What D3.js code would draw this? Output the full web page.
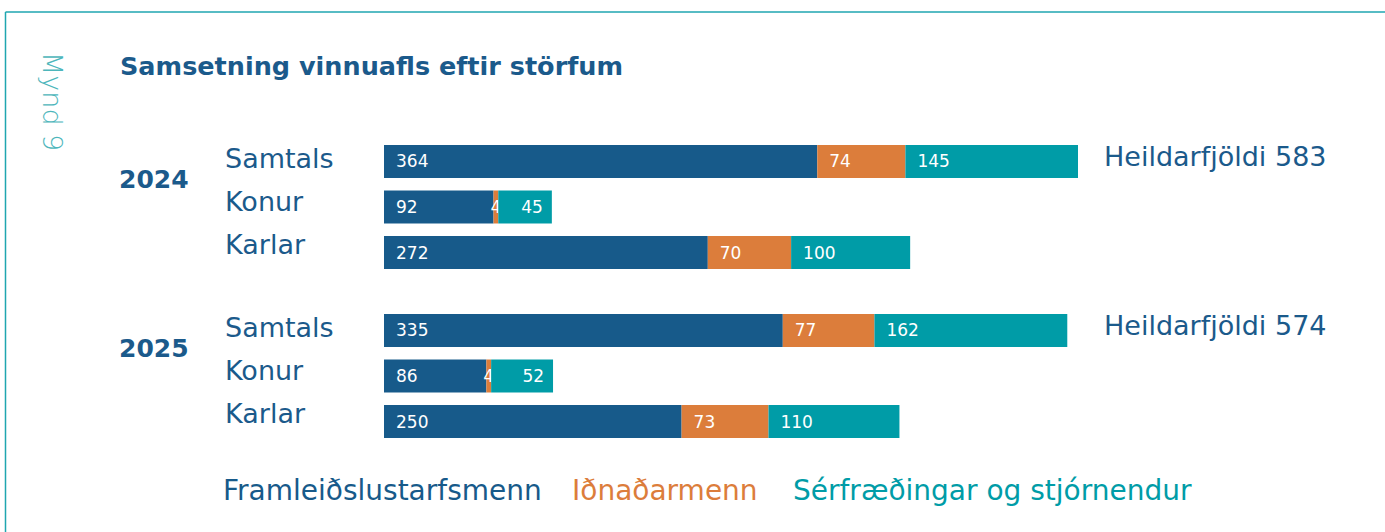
<!DOCTYPE html>
<html>
<head>
<meta charset="utf-8">
<script src="https://cdnjs.cloudflare.com/ajax/libs/d3/7.8.5/d3.min.js"></script>
<style>
  html, body { margin: 0; padding: 0; background: #fff; }
  svg { display: block; font-family: "DejaVu Sans", sans-serif; }
</style>
</head>
<body>
<div id="chart"></div>
<script>
// values
var years = ["2024", "2025"];
var categories = ["Samtals", "Konur", "Karlar"];
var seriesNames = ["Framleiðslustarfsmenn", "Iðnaðarmenn", "Sérfræðingar og stjórnendur"];
var framleidsla = [364, 92, 272, 335, 86, 250];
var idnadarmenn = [74, 4, 70, 77, 4, 73];
var serfraedingar = [145, 45, 100, 162, 52, 110];
var heildarfjoldi = [583, 574];

var colors = ["#175a8a", "#dc7d3b", "#009ca7"];
var textBlue = "#1b5a8b";

var width = 1385, height = 532;

var svg = d3.select("#chart").append("svg")
  .attr("width", width)
  .attr("height", height);

// frame (top + left edge only visible)
svg.append("line")
  .attr("x1", 5.5).attr("y1", 12).attr("x2", width).attr("y2", 12)
  .attr("stroke", "#1fa6b0").attr("stroke-width", 1.5);
svg.append("line")
  .attr("x1", 5.5).attr("y1", 12).attr("x2", 5.5).attr("y2", height)
  .attr("stroke", "#1fa6b0").attr("stroke-width", 1.5);

svg.append("text")
  .attr("transform", "translate(43,52) rotate(90)")
  .attr("fill", "#4db6bb")
  .attr("font-size", 27)
  .attr("font-weight", 300)
  .text("Mynd 9");

svg.append("text")
  .attr("x", 120).attr("y", 75)
  .attr("fill", textBlue)
  .attr("font-size", 25.5)
  .attr("font-weight", 700)
  .text("Samsetning vinnuafls eftir störfum");

// rows: one per year x category
var rows = [];
years.forEach(function(yr, yi) {
  categories.forEach(function(cat, ci) {
    var i = yi * categories.length + ci;
    rows.push({
      year: yr, cat: cat, ci: ci,
      values: [framleidsla[i], idnadarmenn[i], serfraedingar[i]]
    });
  });
});

var x = d3.scaleLinear()
  .domain([0, d3.max(heildarfjoldi)])
  .range([384, 1078]);

var yGroup = d3.scalePoint().domain(years).range([145, 314]);
var yRow = d3.scaleBand().domain(categories).range([0, 124]).paddingInner(0.275);

var stack = d3.stack().keys([0, 1, 2]).value(function(d, k) { return d.values[k]; });
var stacked = stack(rows);

var layer = svg.selectAll("g.layer")
  .data(stacked)
  .enter().append("g")
  .attr("class", "layer")
  .attr("fill", function(d, i) { return colors[i]; });

layer.selectAll("rect")
  .data(function(d) { return d; })
  .enter().append("rect")
  .attr("x", function(d) { return x(d[0]); })
  .attr("y", function(d) { return yGroup(d.data.year) + yRow(d.data.cat); })
  .attr("width", function(d) { return x(d[1]) - x(d[0]); })
  .attr("height", yRow.bandwidth());

// value labels inside segments
layer.selectAll("text")
  .data(function(d) { return d; })
  .enter().append("text")
  .attr("x", function(d) {
    var w = x(d[1]) - x(d[0]);
    if (w < 20) return (x(d[0]) + x(d[1])) / 2;
    if (w < 70) return x(d[1]) - 9;
    return x(d[0]) + 12;
  })
  .attr("text-anchor", function(d) {
    var w = x(d[1]) - x(d[0]);
    if (w < 20) return "middle";
    if (w < 70) return "end";
    return "start";
  })
  .attr("y", function(d) { return yGroup(d.data.year) + yRow(d.data.cat) + yRow.bandwidth() / 2 + 6; })
  .attr("fill", "#fff")
  .attr("font-size", 17)
  .text(function(d) { return d[1] - d[0]; });

// category labels
svg.selectAll("text.cat")
  .data(rows)
  .enter().append("text")
  .attr("class", "cat")
  .attr("x", 225)
  .attr("y", function(d) { return yGroup(d.year) + yRow(d.cat) + yRow.bandwidth() / 2 + 7 - d.ci * 3; })
  .attr("fill", textBlue)
  .attr("font-size", 27)
  .text(function(d) { return d.cat; });

// year labels
svg.selectAll("text.year")
  .data(years)
  .enter().append("text")
  .attr("class", "year")
  .attr("x", 119)
  .attr("y", function(d) { return yGroup(d) + 43; })
  .attr("fill", textBlue)
  .attr("font-size", 25)
  .attr("font-weight", 700)
  .text(function(d) { return d; });

// totals
svg.selectAll("text.total")
  .data(years)
  .enter().append("text")
  .attr("class", "total")
  .attr("x", 1104)
  .attr("y", function(d) { return yGroup(d) + 21; })
  .attr("fill", textBlue)
  .attr("font-size", 27)
  .text(function(d, i) { return "Heildarfjöldi " + heildarfjoldi[i]; });

// legend
var legendX = [223, 572, 793];
svg.selectAll("text.legend")
  .data(seriesNames)
  .enter().append("text")
  .attr("class", "legend")
  .attr("x", function(d, i) { return legendX[i]; })
  .attr("y", 500)
  .attr("fill", function(d, i) { return colors[i]; })
  .attr("font-size", 28)
  .text(function(d) { return d; });
</script>
</body>
</html>
